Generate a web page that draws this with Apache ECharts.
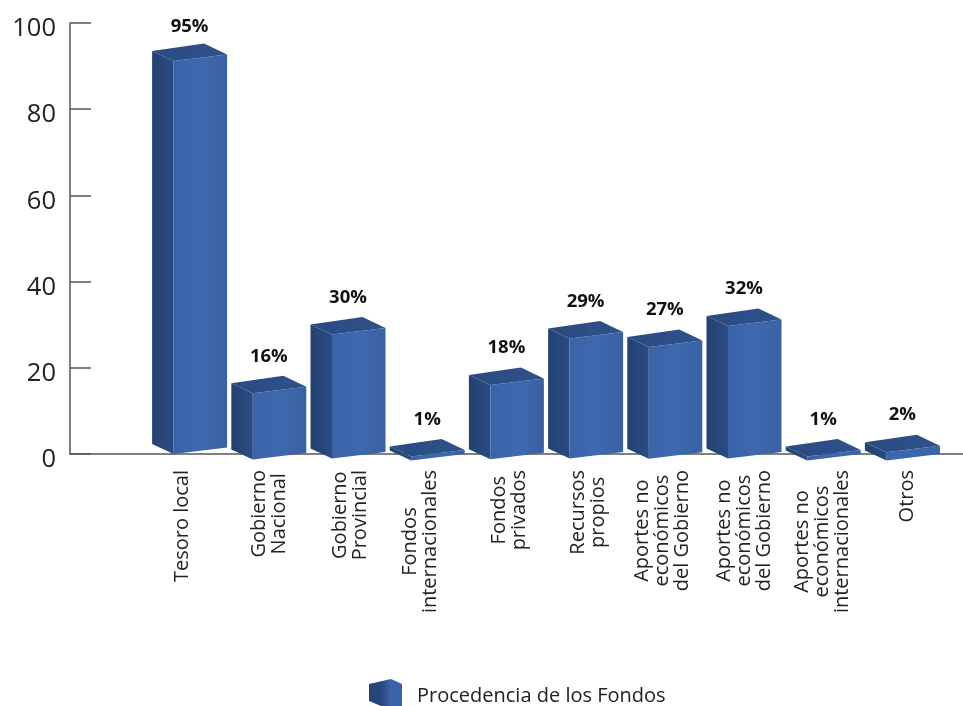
<!DOCTYPE html>
<html>
<head>
<meta charset="utf-8">
<style>html,body{margin:0;padding:0;background:#fff}#c{width:963px;height:706px}</style>
<script src="https://cdn.jsdelivr.net/npm/echarts@6/dist/echarts.min.js"></script>
</head>
<body>
<div id="c"></div>
<script>
const categories = ['Tesoro local','Gobierno\nNacional','Gobierno\nProvincial','Fondos\ninternacionales','Fondos\nprivados','Recursos\npropios','Aportes no\neconómicos\ndel Gobierno','Aportes no\neconómicos\ndel Gobierno','Aportes no\neconómicos\ninternacionales','Otros'];
const values = [95,16,30,1,18,29,27,32,1,2];
const yTicks = [0,20,40,60,80,100];
const seriesName = 'Procedencia de los Fondos';

// small horizontal nudges of the rotated category labels, as typeset in the original
const labelNudge = [-7,0,2,-7,3,3,-3,0,-1,5];
const FONT = '"Open Sans"';
const labelFont = '20px ' + FONT;

function grad(x0,y0,x1,y1,stops){
  return new echarts.graphic.LinearGradient(x0,y0,x1,y1,stops.map((c,i)=>({offset:i/(stops.length-1),color:c})));
}
const frontFill = grad(0,0,1,0,['#3a64a8','#3f69ae','#3961a5']);
const sideFill = grad(0,0,1,0,['#24426f','#2a4b84']);
const topFill = grad(0,0,1,1,['#2a4a80','#2f528c']);

function renderBox(params, api){
  const i = api.value(0), v = api.value(1);
  const p0 = api.coord([i,0]), pv = api.coord([i,v]);
  const h = p0[1]-pv[1];
  const cx = p0[0];
  // oblique perspective: the box recedes slightly as it gets taller
  const bottom = p0[1]-2.4-0.016*h;
  const top = bottom-0.96*h;
  const L=[-37.5,-1], B=[14.5,-8.5], R=[37.5,2.5], F=[-16,9];
  const pt=(o,y)=>[cx+o[0],y+o[1]];
  const children = [
    {type:'polygon',shape:{points:[pt(L,top),pt(F,top),pt(F,bottom),pt(L,bottom)]},style:{fill:sideFill}},
    {type:'polygon',shape:{points:[pt(F,top),pt(R,top),pt(R,bottom),pt(F,bottom)]},style:{fill:frontFill}},
    {type:'polygon',shape:{points:[pt(L,top),pt(B,top),pt(R,top),pt(F,top)]},style:{fill:topFill}},
    {type:'text',x:cx,y:Math.max(top-28,27),style:{text:v+'%',fill:'#111',font:'bold 18.5px '+FONT,textAlign:'center',textVerticalAlign:'middle'}}
  ];
  const name = categories[i];
  const w = Math.max(...name.split('\n').map(s=>echarts.format.getTextRect(s,labelFont).width));
  children.push({type:'text',x:cx+labelNudge[i],y:470+w/2,rotation:Math.PI/2,
    style:{text:name,fill:'#222',font:labelFont,lineHeight:20,textAlign:'center',textVerticalAlign:'middle'}});
  return {type:'group',children};
}

const chart = echarts.init(document.getElementById('c'),null,{renderer:'canvas'});
chart.setOption({
  animation:false,
  backgroundColor:'#fff',
  grid:[
    {left:70,right:0,top:23,height:431},
    {left:150,right:21,top:23,height:431}
  ],
  xAxis:[
    {gridIndex:0,type:'value',min:0,max:1,axisLine:{show:true,onZero:false,lineStyle:{color:'#555',width:1.5}},axisTick:{show:false},axisLabel:{show:false},splitLine:{show:false}},
    {gridIndex:1,type:'category',data:categories,axisLine:{show:false},axisTick:{show:false},axisLabel:{show:false}}
  ],
  yAxis:[
    {gridIndex:0,type:'value',min:yTicks[0],max:yTicks[yTicks.length-1],interval:20,
      axisLine:{show:true,lineStyle:{color:'#555',width:1.5}},
      axisTick:{show:true,inside:true,length:21,lineStyle:{color:'#555',width:1.5}},
      axisLabel:{margin:14,color:'#222',fontFamily:FONT,fontSize:25.5,verticalAlign:'top',lineHeight:12},splitLine:{show:false}},
    {gridIndex:1,type:'value',min:0,max:100,show:false}
  ],
  legend:{
    left:364,top:674,itemWidth:33,itemHeight:27,
    data:[{name:seriesName,icon:'path://M0 5 L22 0 L33 5 L33 27 L12 27 L0 22 Z',
      itemStyle:{color:grad(0,0,1,0,['#26457b','#26457b','#3a64a8','#3a64a8'])}}],
    formatter:'{a|{name}}',
    textStyle:{color:'#222',fontFamily:FONT,fontSize:20,
      rich:{a:{color:'#222',fontFamily:FONT,fontSize:20,padding:[8,0,0,10]}}}
  },
  series:[{
    type:'custom',name:seriesName,xAxisIndex:1,yAxisIndex:1,
    renderItem:renderBox,clip:false,
    itemStyle:{color:'#3a64a8'},
    encode:{x:0,y:1},
    data:values.map((v,i)=>[i,v])
  }]
});
</script>
</body>
</html>
